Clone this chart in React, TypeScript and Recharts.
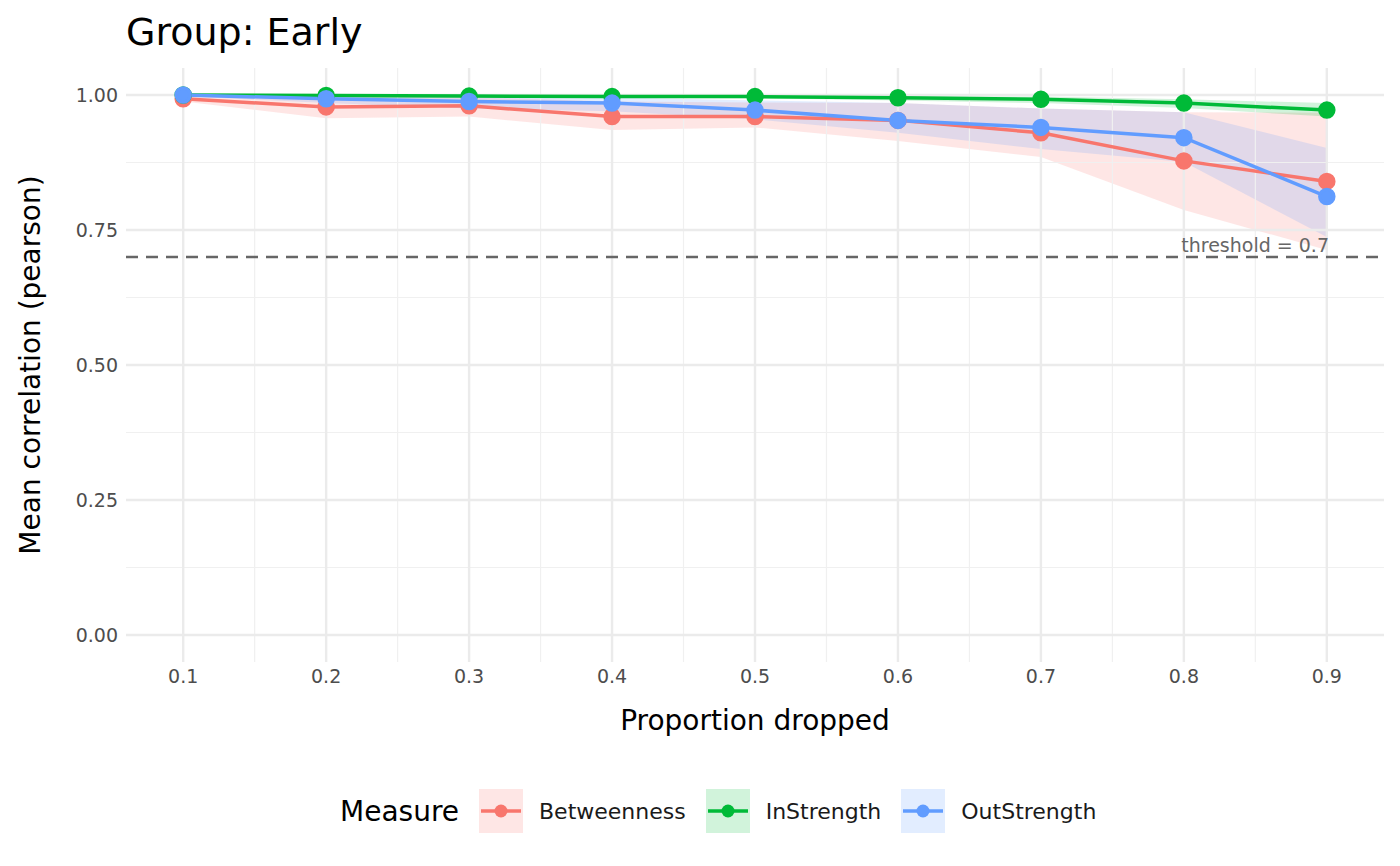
import * as React from 'react'
import { ComposedChart, Line, Area, XAxis, YAxis, ReferenceLine } from 'recharts'

const props = [0.1, 0.2, 0.3, 0.4, 0.5, 0.6, 0.7, 0.8, 0.9]
const betweenness = [0.993, 0.978, 0.98, 0.96, 0.96, 0.953, 0.93, 0.878, 0.84]
const betweennessLo = [0.988, 0.957, 0.96, 0.935, 0.94, 0.915, 0.885, 0.787, 0.713]
const betweennessHi = [0.998, 0.998, 0.996, 0.988, 0.986, 0.985, 0.975, 0.968, 0.967]
const inStrength = [1.0, 0.999, 0.998, 0.997, 0.997, 0.995, 0.992, 0.985, 0.972]
const inStrengthLo = [0.999, 0.998, 0.996, 0.995, 0.994, 0.99, 0.985, 0.976, 0.96]
const inStrengthHi = [1.0, 1.0, 0.999, 0.999, 0.999, 0.998, 0.997, 0.992, 0.985]
const outStrength = [1.0, 0.993, 0.988, 0.985, 0.972, 0.953, 0.94, 0.921, 0.812]
const outStrengthLo = [0.998, 0.985, 0.975, 0.97, 0.955, 0.93, 0.9, 0.876, 0.737]
const outStrengthHi = [1.0, 0.999, 0.997, 0.996, 0.99, 0.985, 0.975, 0.968, 0.902]
const yTicks = [0, 0.25, 0.5, 0.75, 1]
const yMinor = [0.125, 0.375, 0.625, 0.875]
const xMinor = [0.15, 0.25, 0.35, 0.45, 0.55, 0.65, 0.75, 0.85]
const threshold = 0.7

const RED = '#F8766D'
const GREEN = '#00BA38'
const BLUE = '#619CFF'

const data = props.map((p, i) => ({
  p,
  b: betweenness[i],
  bR: [betweennessLo[i], betweennessHi[i]],
  s: inStrength[i],
  sR: [inStrengthLo[i], inStrengthHi[i]],
  o: outStrength[i],
  oR: [outStrengthLo[i], outStrengthHi[i]],
}))

const font = 'DejaVu Sans, sans-serif'

function LegendKey({ color, label }: { color: string; label: string }) {
  return (
    <div style={{ display: 'flex', alignItems: 'center', marginRight: 20 }}>
      <svg width={44} height={44}>
        <rect x={0} y={0} width={44} height={44} fill={color} fillOpacity={0.18} />
        <line x1={2} y1={22} x2={42} y2={22} stroke={color} strokeWidth={3.5} />
        <circle cx={22} cy={22} r={6.5} fill={color} />
      </svg>
      <span style={{ marginLeft: 16, fontSize: 22, color: '#1a1a1a' }}>{label}</span>
    </div>
  )
}

export default function App() {
  return (
    <div style={{ position: 'relative', width: 1400, height: 866, margin: -8, fontFamily: font, background: '#fff' }}>
      <div style={{ position: 'absolute', left: 126, top: 10, fontSize: 38, color: '#000' }}>Group: Early</div>
      <div
        style={{
          position: 'absolute', left: 30, top: 365, fontSize: 28, color: '#000',
          transform: 'translate(-50%, -50%) rotate(-90deg)', whiteSpace: 'nowrap',
        }}
      >
        Mean correlation (pearson)
      </div>
      <div style={{ position: 'absolute', left: 755, top: 720, transform: 'translate(-50%, -50%)', fontSize: 28, color: '#000' }}>
        Proportion dropped
      </div>
      <ComposedChart width={1400} height={866} data={data} margin={{ top: 68, right: 16, bottom: 174, left: 66 }}>
        {yMinor.map((v) => (
          <ReferenceLine key={'y' + v} y={v} stroke="#f0f0f0" strokeWidth={1.2} />
        ))}
        {xMinor.map((v) => (
          <ReferenceLine key={'x' + v} x={v} stroke="#f0f0f0" strokeWidth={1.2} />
        ))}
        {yTicks.map((v) => (
          <ReferenceLine key={'Y' + v} y={v} stroke="#ebebeb" strokeWidth={2.4} />
        ))}
        {props.map((v) => (
          <ReferenceLine key={'X' + v} x={v} stroke="#ebebeb" strokeWidth={2.4} />
        ))}
        <XAxis
          type="number" dataKey="p" domain={[0.06, 0.94]} ticks={props} height={30}
          axisLine={false} tickLine={false} tickFormatter={(v: number) => v.toFixed(1)}
          tick={{ fontSize: 19, fill: '#4d4d4d', fontFamily: font }}
        />
        <YAxis
          type="number" domain={[-0.05, 1.05]} ticks={yTicks} width={60}
          axisLine={false} tickLine={false} tickFormatter={(v: number) => v.toFixed(2)}
          tick={{ fontSize: 19, fill: '#4d4d4d', fontFamily: font }}
        />
        <ReferenceLine
          y={threshold} stroke="#666" strokeWidth={2.4} strokeDasharray="12 8"
          label={{ value: 'threshold = 0.7', position: 'insideBottomRight', fill: '#666', fontSize: 19, fontFamily: font, offset: 5, dx: -50 }}
        />
        <Line dataKey="b" stroke={RED} strokeWidth={3.5} dot={{ r: 7, fill: RED, stroke: RED }} isAnimationActive={false} />
        <Line dataKey="s" stroke={GREEN} strokeWidth={3.5} dot={{ r: 7, fill: GREEN, stroke: GREEN }} isAnimationActive={false} />
        <Line dataKey="o" stroke={BLUE} strokeWidth={3.5} dot={{ r: 7, fill: BLUE, stroke: BLUE }} isAnimationActive={false} />
        <Area dataKey="bR" stroke="none" fill={RED} fillOpacity={0.18} isAnimationActive={false} />
        <Area dataKey="sR" stroke="none" fill={GREEN} fillOpacity={0.18} isAnimationActive={false} />
        <Area dataKey="oR" stroke="none" fill={BLUE} fillOpacity={0.18} isAnimationActive={false} />
      </ComposedChart>
      <div style={{ position: 'absolute', left: 340, top: 789, display: 'flex', alignItems: 'center' }}>
        <span style={{ fontSize: 28, marginRight: 20, color: '#000' }}>Measure</span>
        <LegendKey color={RED} label="Betweenness" />
        <LegendKey color={GREEN} label="InStrength" />
        <LegendKey color={BLUE} label="OutStrength" />
      </div>
    </div>
  )
}
